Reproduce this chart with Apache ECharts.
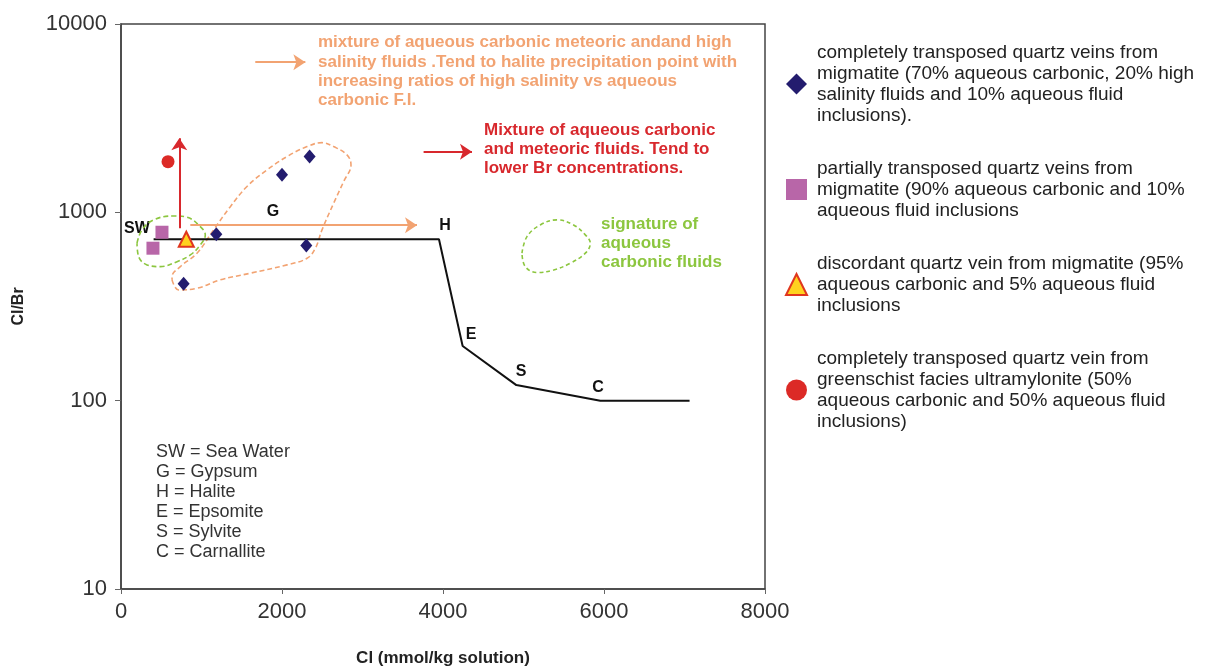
<!DOCTYPE html>
<html>
<head>
<meta charset="utf-8">
<script src="https://cdn.jsdelivr.net/npm/echarts@6/dist/echarts.min.js"></script>
<style>
  html, body { margin: 0; padding: 0; background: #fff; }
  #chart { width: 1205px; height: 669px; }
</style>
</head>
<body>
<div id="chart"></div>
<script>
// ---- data (Cl in mmol/kg, Cl/Br ratio) ----
const xTicks = [0, 2000, 4000, 6000, 8000];
const yTicks = [10, 100, 1000, 10000];

const diamondPts = [[1184, 765], [2302, 666], [778, 417], [2000, 1581], [2343, 1977]];
const squarePts = [[509, 784], [397, 645]];
const trianglePts = [[811, 720]];
const circlePts = [[584, 1858]];

// seawater evaporation path: SW -> H -> E -> S -> C
const evapPath = [[405, 720], [3950, 720], [4244, 195], [4911, 121], [5954, 100], [7063, 100]];

// dashed field outlines
const orangeField = [[634, 438], [716, 387], [944, 395], [1234, 438], [1606, 475], [2062, 526], [2311, 570],
  [2414, 644], [2497, 807], [2641, 1117], [2765, 1455], [2857, 1786], [2807, 2018], [2641, 2234],
  [2497, 2344], [2311, 2234], [2062, 1977], [1814, 1679], [1565, 1371], [1358, 1072], [1150, 807],
  [944, 607], [737, 515], [634, 456], [634, 438]];
const greenFieldSW = [[199, 686], [261, 807], [405, 912], [653, 957], [820, 942], [985, 839], [1047, 759],
  [985, 671], [861, 594], [696, 547], [488, 515], [323, 526], [219, 582], [199, 686]];
const greenFieldRef = [[4981, 607], [5043, 743], [5208, 857], [5416, 912], [5622, 857], [5768, 759],
  [5830, 686], [5768, 607], [5581, 537], [5374, 494], [5168, 479], [5022, 515], [4981, 607]];

// arrows
const redUpArrow = [[724, 823], [724, 2474]];
const orangeHArrow = [[861, 854], [3677, 854]];
const orangeNoteArrow = [[1668, 6266], [2290, 6266]];
const redNoteArrow = [[3759, 2099], [4360, 2099]];

// texts
const legendNames = [
  'completely transposed quartz veins from\nmigmatite (70% aqueous carbonic, 20% high\nsalinity fluids and 10% aqueous fluid\ninclusions).',
  'partially transposed quartz veins from\nmigmatite (90% aqueous carbonic and 10%\naqueous fluid inclusions',
  'discordant quartz vein from migmatite (95%\naqueous carbonic and 5% aqueous fluid\ninclusions',
  'completely transposed quartz vein from\ngreenschist facies ultramylonite (50%\naqueous carbonic and 50% aqueous fluid\ninclusions)'
];
const orangeNote = 'mixture of aqueous carbonic meteoric andand high\nsalinity fluids .Tend to halite precipitation point with\nincreasing ratios of high salinity vs aqueous\ncarbonic F.I.';
const redNote = 'Mixture of aqueous carbonic\nand meteoric fluids. Tend to\nlower Br concentrations.';
const greenNote = 'signature of\naqueous\ncarbonic fluids';
const keyNote = 'SW = Sea Water\nG = Gypsum\nH = Halite\nE = Epsomite\nS = Sylvite\nC = Carnallite';
const pathLabels = ['SW', 'G', 'H', 'E', 'S', 'C'];

const FONT = "'Liberation Sans', Arial, Helvetica, sans-serif";
const ORANGE = '#f2a372';
const RED = '#d8282d';
const GREEN = '#8cc63f';

const chart = echarts.init(document.getElementById('chart'));

function lbl(text, x, y) {
  return { type: 'text', x: x, y: y, style: { text: text, fill: '#111', font: 'bold 16px ' + FONT, align: 'center', verticalAlign: 'middle' } };
}
const labelPix = [[137, 229], [273, 212], [445, 226], [471, 335], [521, 372], [598, 388]];

chart.setOption({
  animation: false,
  backgroundColor: '#fff',
  textStyle: { fontFamily: FONT },
  grid: { left: 121, right: 440, top: 24, bottom: 80, containLabel: false, outerBoundsMode: 'none',
    show: true, borderColor: '#444', borderWidth: 1.5, backgroundColor: 'transparent' },
  xAxis: {
    type: 'value', min: xTicks[0], max: xTicks[xTicks.length - 1], interval: 2000,
    name: 'Cl (mmol/kg solution)', nameLocation: 'middle', nameGap: 61,
    nameTextStyle: { fontSize: 17, fontWeight: 'bold', color: '#222', fontFamily: FONT },
    axisLine: { lineStyle: { color: '#444', width: 1.5 } },
    axisTick: { show: true, length: 5, lineStyle: { color: '#666' } },
    axisLabel: { fontSize: 22, color: '#333', margin: 12, fontFamily: FONT, formatter: v => String(Math.round(v)) },
    splitLine: { show: false }
  },
  yAxis: {
    type: 'log', logBase: 10, min: yTicks[0], max: yTicks[yTicks.length - 1],
    name: 'Cl/Br', nameLocation: 'middle', nameGap: 94,
    nameTextStyle: { fontSize: 16, fontWeight: 'bold', color: '#222', fontFamily: FONT },
    axisLine: { lineStyle: { color: '#444', width: 1.5 } },
    axisTick: { show: true, length: 6, lineStyle: { color: '#666' } },
    minorTick: { show: false },
    axisLabel: { fontSize: 22, color: '#333', margin: 14, fontFamily: FONT, formatter: v => String(Math.round(v)) },
    splitLine: { show: false }
  },
  legend: {
    orient: 'vertical', left: 780, top: 37, itemGap: 32,
    itemWidth: 21, itemHeight: 21,
    textStyle: { fontSize: 19, lineHeight: 21, color: '#222', fontFamily: FONT, padding: [0, 0, 0, 5] },
    data: legendNames
  },
  graphic: [
    { type: 'text', left: 318, top: 33, style: { text: orangeNote, fill: ORANGE, font: 'bold 17px ' + FONT, lineHeight: 19.3 } },
    { type: 'text', left: 484, top: 121, style: { text: redNote, fill: RED, font: 'bold 17px ' + FONT, lineHeight: 19 } },
    { type: 'text', left: 601, top: 215, style: { text: greenNote, fill: GREEN, font: 'bold 17px ' + FONT, lineHeight: 19 } },
    { type: 'text', left: 156, top: 442, style: { text: keyNote, fill: '#333', font: '18px ' + FONT, lineHeight: 20 } }
  ].concat(pathLabels.map((t, i) => lbl(t, labelPix[i][0], labelPix[i][1]))),
  series: [
    { name: 'orangeField', type: 'line', data: orangeField, smooth: 0.4, symbol: 'none', silent: true,
      lineStyle: { color: ORANGE, width: 1.6, type: [5, 3] }, z: 1 },
    { name: 'greenFieldSW', type: 'line', data: greenFieldSW, smooth: 0.4, symbol: 'none', silent: true,
      lineStyle: { color: GREEN, width: 1.6, type: [5, 3] }, z: 1 },
    { name: 'greenFieldRef', type: 'line', data: greenFieldRef, smooth: 0.4, symbol: 'none', silent: true,
      lineStyle: { color: GREEN, width: 1.6, type: [4, 3] }, z: 1 },
    { name: 'evap', type: 'line', data: evapPath, symbol: 'none', silent: true,
      lineStyle: { color: '#111', width: 2 }, z: 2 },
    { name: 'arrows', type: 'lines', coordinateSystem: 'cartesian2d', symbol: ['none', 'arrow'], symbolSize: 12, silent: true, z: 3,
      data: [
        { coords: redUpArrow, lineStyle: { color: RED, width: 2 } },
        { coords: orangeHArrow, lineStyle: { color: ORANGE, width: 2 } },
        { coords: orangeNoteArrow, lineStyle: { color: ORANGE, width: 2 } },
        { coords: redNoteArrow, lineStyle: { color: RED, width: 2 } }
      ],
      lineStyle: { opacity: 1, curveness: 0 } },
    { name: legendNames[0], type: 'scatter', data: diamondPts, symbol: 'diamond', symbolSize: [12, 14],
      itemStyle: { color: '#231c6e', opacity: 1 }, z: 5 },
    { name: legendNames[1], type: 'scatter', data: squarePts, symbol: 'rect', symbolSize: 13,
      itemStyle: { color: '#b866a8', opacity: 1 }, z: 5 },
    { name: legendNames[2], type: 'scatter', data: trianglePts, symbol: 'triangle', symbolSize: 15,
      itemStyle: { color: '#ffd21f', borderColor: '#e0361e', borderWidth: 2, opacity: 1 }, z: 6 },
    { name: legendNames[3], type: 'scatter', data: circlePts, symbol: 'circle', symbolSize: 13,
      itemStyle: { color: '#dc2a26', opacity: 1 }, z: 5 }
  ]
});
</script>
</body>
</html>
